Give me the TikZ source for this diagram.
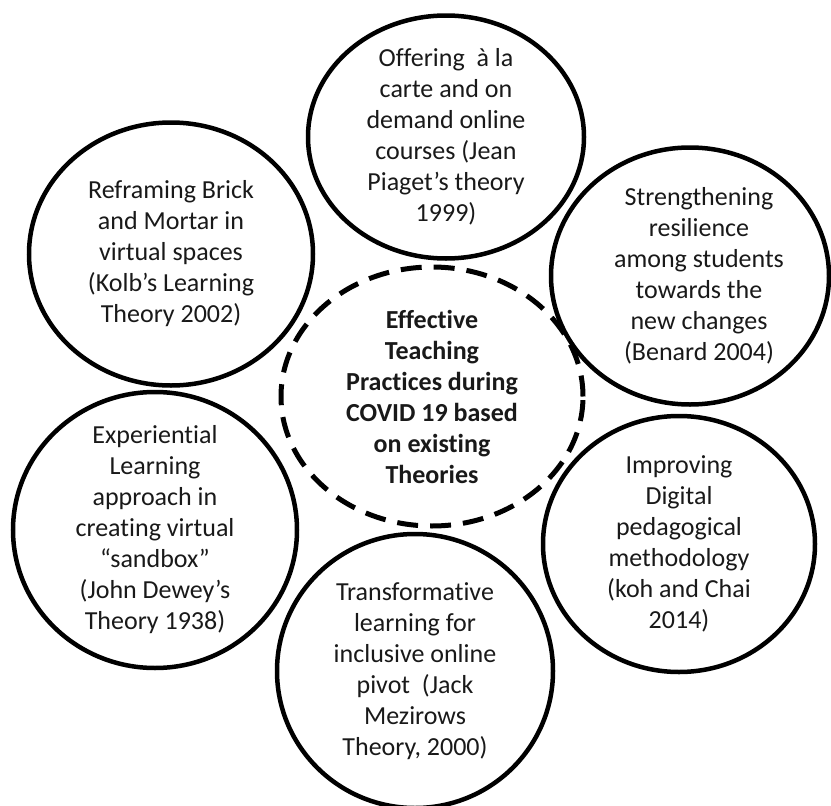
\documentclass[tikz,border=0pt]{standalone}
\usepackage{fontspec}
\setmainfont{Carlito}[Ligatures=NoCommon]
\usetikzlibrary{shapes.geometric,positioning}

\begin{document}
\begin{tikzpicture}[
		x=1pt, y=-1pt,
		every node/.style={font=\fontsize{26}{31}\selectfont, align=center, inner sep=0pt, text=black!90},
		theory/.style={ellipse, draw=black, line width=4.5pt},
		core/.style={ellipse, draw=black, line width=5pt, dash pattern=on 21pt off 12pt},
	]

	% Frame
	\useasboundingbox (0,0) rectangle (831,806);

	% Nodes
	\node[core, minimum width=302pt, minimum height=259pt,
		label={[font=\fontsize{26}{31}\selectfont\bfseries]center:{Effective\\Teaching\\Practices during\\COVID 19 based\\on existing\\Theories}}]
		(core) at (432,396.5) {};

	\node[theory, minimum width=276pt, minimum height=243pt,
		label={center:{Offering~ à la\\carte and on\\demand online\\courses (Jean\\Piaget’s theory\\1999)}}]
		(offer) at (446,137) {};
	\node[theory, minimum width=284pt, minimum height=263pt,
		label={center:{Reframing Brick\\and Mortar in\\virtual spaces\\(Kolb’s Learning\\Theory 2002)}}]
		(brick) at (171,254) {};
	\node[theory, minimum width=278pt, minimum height=257pt,
		label={[xshift=9pt]center:{Strengthening\\resilience\\among students\\towards the\\new changes\\(Benard 2004)}}]
		(resil) at (690,276) {};
	\node[theory, minimum width=284pt, minimum height=276pt,
		label={center:{Experiential\\Learning\\approach in\\creating virtual\\“sandbox”\\(John Dewey’s\\Theory 1938)}}]
		(exper) at (155,530) {};
	\node[theory, minimum width=272pt, minimum height=256pt,
		label={center:{Improving\\Digital\\pedagogical\\methodology\\(koh and Chai\\2014)}}]
		(digit) at (679,544) {};
	\node[theory, minimum width=276pt, minimum height=274pt,
		label={center:{Transformative\\learning for\\inclusive online\\pivot~ (Jack\\Mezirows\\Theory, 2000)}}]
		(pivot) at (415,671) {};

	\end{tikzpicture}
\end{document}
